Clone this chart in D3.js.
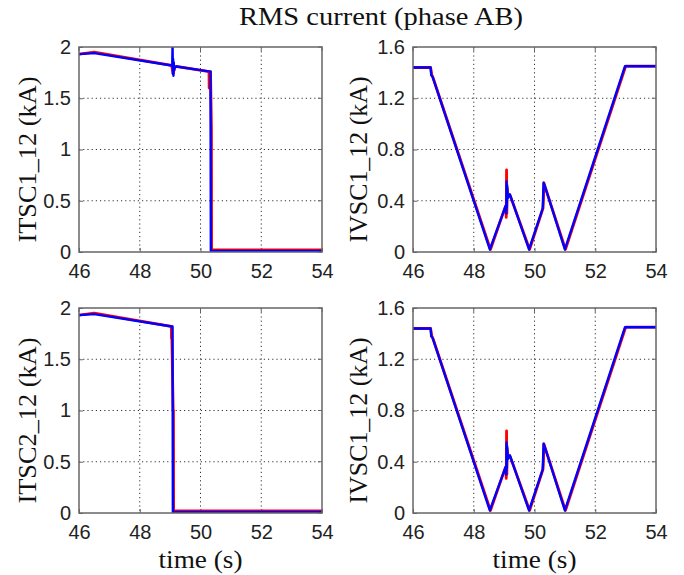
<!DOCTYPE html>
<html><head><meta charset="utf-8">
<script src="https://cdn.jsdelivr.net/npm/d3@7"></script>
<style>body{margin:0;background:#fff}</style>
</head><body>
<svg id="c" width="684" height="575"></svg>
<script>
// ---- data ----
const xTicks = [46, 48, 50, 52, 54];
const yTicksTSC = [0, 0.5, 1, 1.5, 2];
const yTicksVSC = [0, 0.4, 0.8, 1.2, 1.6];

// ITSC1_12
const tsc1BlueT = [46, 46.5, 49.05, 49.07, 49.08, 49.09, 49.1, 49.11, 49.12, 49.13, 49.15, 49.2, 50.33, 50.34, 54];
const tsc1BlueV = [1.93, 1.94, 1.82, 1.83, 2.02, 1.74, 1.88, 1.72, 1.85, 1.77, 1.8, 1.81, 1.76, 0.01, 0.01];
const tsc1RedT  = [46, 46.5, 49.05, 49.1, 49.15, 49.2, 50.28, 50.285, 50.29, 50.33, 50.36, 50.365, 54];
const tsc1RedV  = [1.93, 1.95, 1.82, 1.74, 1.8, 1.81, 1.76, 1.6, 1.76, 1.76, 1.2, 0.02, 0.02];

// ITSC2_12
const tsc2BlueT = [46, 46.5, 49.05, 49.08, 49.09, 54];
const tsc2BlueV = [1.93, 1.94, 1.82, 1.82, 0.01, 0.01];
const tsc2RedT  = [46, 46.5, 49.04, 49.045, 49.05, 49.1, 49.11, 49.115, 54];
const tsc2RedV  = [1.93, 1.95, 1.82, 1.7, 1.82, 1.0, 1.0, 0.02, 0.02];

// IVSC1_12 (top and bottom right)
const vscBlueT = [46, 46.58, 46.6, 46.64, 48.53, 49.05, 49.07, 49.08, 49.09, 49.1, 49.12, 49.19, 49.82, 50.27, 50.3, 50.33, 50.36, 51.0, 52.98, 54];
const vscBlueV = [1.44, 1.44, 1.38, 1.37, 0.02, 0.36, 0.3, 0.55, 0.35, 0.52, 0.42, 0.45, 0.02, 0.34, 0.54, 0.52, 0.5, 0.02, 1.45, 1.45];
const vscRedT  = [46, 46.58, 46.62, 46.66, 48.55, 49.05, 49.07, 49.08, 49.09, 49.1, 49.13, 49.2, 49.84, 50.28, 50.29, 50.31, 50.36, 51.02, 53.0, 54];
const vscRedV  = [1.44, 1.44, 1.38, 1.36, 0.02, 0.36, 0.27, 0.64, 0.3, 0.5, 0.44, 0.44, 0.02, 0.34, 0.38, 0.54, 0.5, 0.02, 1.45, 1.45];

const panels = [
  {x0: 79, y0: 47, ylab: "ITSC1_12 (kA)", yTicks: yTicksTSC, ymax: 2, red: [tsc1RedT, tsc1RedV], blue: [tsc1BlueT, tsc1BlueV], fmt: d => String(d), labX: 36},
  {x0: 413, y0: 47, ylab: "IVSC1_12 (kA)", yTicks: yTicksVSC, ymax: 1.6, red: [vscRedT, vscRedV], blue: [vscBlueT, vscBlueV], fmt: d => d === 0 ? "0" : d3.format(".1f")(d), labX: 367},
  {x0: 79, y0: 308, ylab: "ITSC2_12 (kA)", yTicks: yTicksTSC, ymax: 2, red: [tsc2RedT, tsc2RedV], blue: [tsc2BlueT, tsc2BlueV], fmt: d => String(d), labX: 36, xlab: true},
  {x0: 413, y0: 308, ylab: "IVSC1_12 (kA)", yTicks: yTicksVSC, ymax: 1.6, red: [vscRedT, vscRedV], blue: [vscBlueT, vscBlueV], fmt: d => d === 0 ? "0" : d3.format(".1f")(d), labX: 367, xlab: true}
];

const W = 243, H = 205;
const svg = d3.select("#c");
const sans = "'Liberation Sans', Arial, sans-serif";
const serif = "'Liberation Serif', 'Times New Roman', serif";

svg.append("text").attr("x", 381).attr("y", 25).attr("text-anchor", "middle")
  .attr("font-family", serif).attr("font-size", 25).attr("fill", "#111")
  .attr("textLength", 284).attr("lengthAdjust", "spacingAndGlyphs")
  .text("RMS current (phase AB)");

panels.forEach(p => {
  const g = svg.append("g").attr("transform", `translate(${p.x0},${p.y0})`);
  const x = d3.scaleLinear().domain([46, 54]).range([0, W]);
  const y = d3.scaleLinear().domain([0, p.ymax]).range([H, 0]);

  // grid
  g.append("g").selectAll("line").data(xTicks.slice(1, -1)).join("line")
    .attr("x1", d => x(d)).attr("x2", d => x(d)).attr("y1", 0).attr("y2", H)
    .attr("stroke", "#333").attr("stroke-width", 1).attr("stroke-dasharray", "1.2,3");
  g.append("g").selectAll("line").data(p.yTicks.slice(1, -1)).join("line")
    .attr("y1", d => y(d)).attr("y2", d => y(d)).attr("x1", 0).attr("x2", W)
    .attr("stroke", "#333").attr("stroke-width", 1).attr("stroke-dasharray", "1.2,3");

  // axes (ticks inward)
  const xa = g.append("g").attr("transform", `translate(0,${H})`)
    .call(d3.axisBottom(x).tickValues(xTicks).tickSize(-4).tickPadding(12).tickFormat(d3.format("d")));
  const ya = g.append("g")
    .call(d3.axisLeft(y).tickValues(p.yTicks).tickSize(-4).tickPadding(8).tickFormat(p.fmt));
  [xa, ya].forEach(a => {
    a.select(".domain").remove();
    a.selectAll("line").attr("stroke", "#666");
    a.selectAll("text").attr("font-family", sans).attr("font-size", 20).attr("fill", "#222");
  });
  // top ticks / right ticks
  g.append("g").selectAll("line").data(xTicks).join("line")
    .attr("x1", d => x(d)).attr("x2", d => x(d)).attr("y1", 0).attr("y2", 4).attr("stroke", "#666");
  g.append("g").selectAll("line").data(p.yTicks).join("line")
    .attr("y1", d => y(d)).attr("y2", d => y(d)).attr("x1", W).attr("x2", W - 4).attr("stroke", "#666");

  // lines
  const line = d3.line().x(d => x(d[0])).y(d => y(d[1]));
  const redPts = p.red[0].map((t, i) => [t, p.red[1][i]]);
  const bluePts = p.blue[0].map((t, i) => [t, p.blue[1][i]]);
  const clipId = "clip" + p.x0 + "_" + p.y0;
  g.append("clipPath").attr("id", clipId).append("rect").attr("x", 0).attr("y", 0).attr("width", W).attr("height", H);
  const lg = g.append("g").attr("clip-path", `url(#${clipId})`);
  lg.append("path").datum(redPts).attr("d", line).attr("fill", "none")
    .attr("stroke", "#ff0000").attr("stroke-width", 2.8).attr("stroke-linejoin", "round");
  lg.append("path").datum(bluePts).attr("d", line).attr("fill", "none")
    .attr("stroke", "#0000ff").attr("stroke-width", 2.4).attr("stroke-linejoin", "round");

  // frame
  g.append("rect").attr("x", 0).attr("y", 0).attr("width", W).attr("height", H)
    .attr("fill", "none").attr("stroke", "#666").attr("stroke-width", 1.5);

  // y label
  g.append("text").attr("transform", `translate(${p.labX - p.x0},${H / 2 + 10}) rotate(-90)`)
    .attr("text-anchor", "middle").attr("font-family", serif).attr("font-size", 25).attr("fill", "#111")
    .attr("textLength", 166).attr("lengthAdjust", "spacingAndGlyphs")
    .text(p.ylab);

  if (p.xlab) {
    g.append("text").attr("x", W / 2).attr("y", H + 55).attr("text-anchor", "middle")
      .attr("font-family", serif).attr("font-size", 25).attr("fill", "#111")
      .attr("textLength", 84).attr("lengthAdjust", "spacingAndGlyphs")
      .text("time (s)");
  }
});
</script>
</body></html>
